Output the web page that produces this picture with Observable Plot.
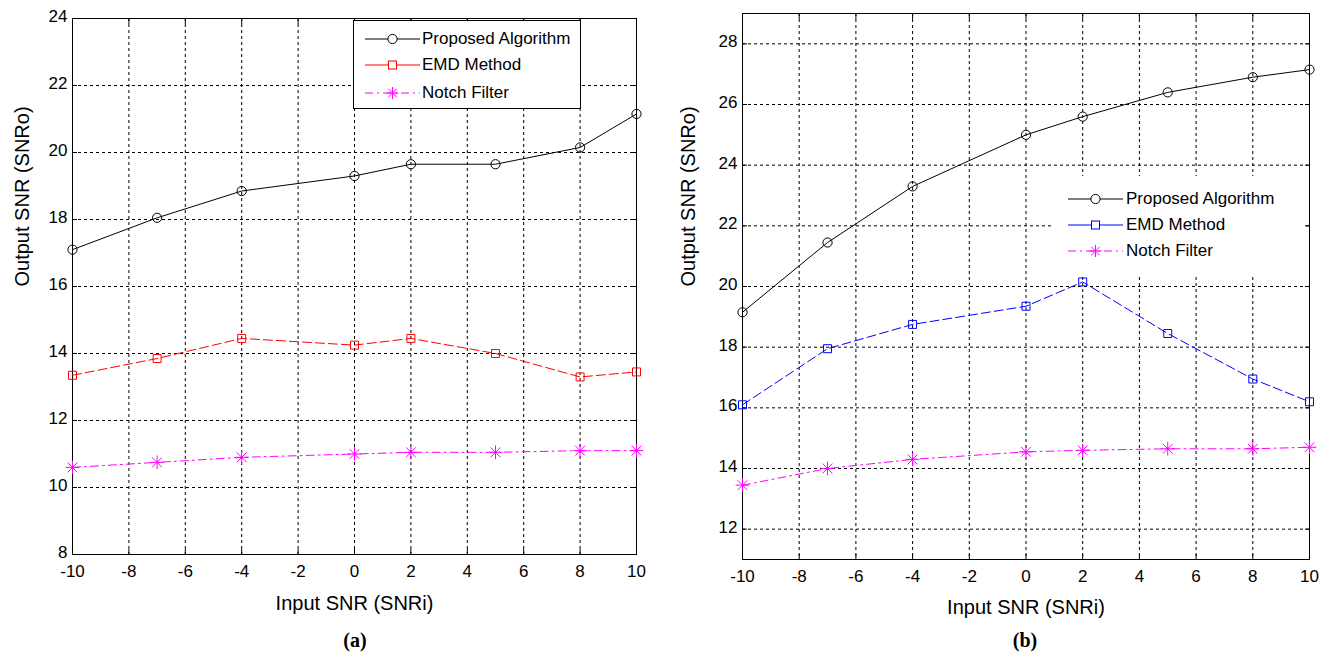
<!DOCTYPE html>
<html>
<head>
<meta charset="utf-8">
<script src="https://cdn.jsdelivr.net/npm/d3@7"></script>
<script src="https://cdn.jsdelivr.net/npm/@observablehq/plot@0.6"></script>
<style>
  html, body { margin: 0; padding: 0; background: #fff; }
  #page { position: relative; width: 1328px; height: 657px; overflow: hidden; }
  .panel { position: absolute; top: 0; }
  .legend { position: absolute; background: #fff; font-family: "Liberation Sans", Arial, sans-serif; font-size: 17px; color: #000; }
  .legend .row { position: absolute; left: 0; height: 20px; white-space: nowrap; }
  .legend svg { position: absolute; left: 0; top: 0; overflow: visible; }
  .legend span { position: absolute; top: 0; line-height: 20px; }
  .caption { position: absolute; font-family: "Liberation Serif", "Times New Roman", serif; font-weight: bold; font-size: 20px; transform: translate(-50%, -50%); }
</style>
</head>
<body>
<div id="page"></div>
<script>
// ---------- data ----------
const snrIn = [-10, -7, -4, 0, 2, 5, 8, 10];
const xTicks = [-10, -8, -6, -4, -2, 0, 2, 4, 6, 8, 10];
const seriesNames = ["Proposed Algorithm", "EMD Method", "Notch Filter"];

const proposedA = [17.1, 18.05, 18.85, 19.3, 19.65, 19.65, 20.15, 21.15];
const emdA      = [13.35, 13.85, 14.45, 14.25, 14.45, 14.0, 13.3, 13.45];
const notchA    = [10.6, 10.75, 10.9, 11.0, 11.05, 11.05, 11.1, 11.1];
const yTicksA   = [8, 10, 12, 14, 16, 18, 20, 22, 24];

const proposedB = [19.15, 21.45, 23.3, 25.0, 25.6, 26.4, 26.9, 27.15];
const emdB      = [16.1, 17.95, 18.75, 19.35, 20.15, 18.45, 16.95, 16.2];
const notchB    = [13.45, 14.0, 14.3, 14.55, 14.6, 14.65, 14.65, 14.7];
const yTicksB   = [12, 14, 16, 18, 20, 22, 24, 26, 28];

const xLabel = "Input SNR (SNRi)";
const yLabel = "Output SNR (SNRo)";
// --------------------------

const sans = "'Liberation Sans',Arial,sans-serif";
const fmt = d => String(d);

function toRows(vals) { return snrIn.map((x, i) => ({x, y: vals[i]})); }

function panel({proposed, emd, notch, yDomain, yTicks, emdColor, margins, labelDy, yLabelDx}) {
  const P = toRows(proposed), E = toRows(emd), N = toRows(notch);
  return Plot.plot({
    width: 664,
    height: 625,
    marginLeft: margins[0], marginRight: margins[1], marginTop: margins[2], marginBottom: margins[3],
    style: {fontFamily: sans, fontSize: "17px", color: "#000", background: "#fff"},
    x: {domain: [-10, 10], ticks: xTicks},
    y: {domain: yDomain, ticks: yTicks},
    marks: [
      Plot.gridX(xTicks, {stroke: "#000", strokeOpacity: 1, strokeDasharray: "3,3", strokeWidth: 1}),
      Plot.gridY(yTicks, {stroke: "#000", strokeOpacity: 1, strokeDasharray: "3,3", strokeWidth: 1}),
      Plot.axisX(xTicks, {tickSize: 5, insetBottom: 5, fill: "none", stroke: "#000"}),
      Plot.axisX(xTicks, {anchor: "top", tickSize: 5, insetTop: 5, fill: "none", stroke: "#000", label: null}),
      Plot.axisY(yTicks, {tickSize: 5, insetLeft: 5, fill: "none", stroke: "#000"}),
      Plot.axisY(yTicks, {anchor: "right", tickSize: 5, insetRight: 5, fill: "none", stroke: "#000", label: null}),
      Plot.axisX(xTicks, {tickSize: 0, tickPadding: 10, stroke: "none", label: null, fill: "#000", tickFormat: fmt}),
      Plot.axisY(yTicks, {tickSize: 0, tickPadding: 5, dy: -2, stroke: "none", label: null, fill: "#000", tickFormat: fmt}),
      Plot.frame({stroke: "#000", strokeWidth: 1}),
      // Notch filter
      Plot.line(N, {x: "x", y: "y", stroke: "#ff00ff", strokeWidth: 1, strokeDasharray: "8,4,2,4"}),
      Plot.dot(N, {x: "x", y: "y", symbol: "plus", r: 4.5, stroke: "#ff00ff", strokeWidth: 1, fill: "none"}),
      Plot.dot(N, {x: "x", y: "y", symbol: "times", r: 4.5, stroke: "#ff00ff", strokeWidth: 1, fill: "none"}),
      // EMD
      Plot.line(E, {x: "x", y: "y", stroke: emdColor, strokeWidth: 1, strokeDasharray: "9,4"}),
      Plot.dot(E, {x: "x", y: "y", symbol: "square", r: 4.5, stroke: emdColor, strokeWidth: 1, fill: "none"}),
      // Proposed
      Plot.line(P, {x: "x", y: "y", stroke: "#000", strokeWidth: 1}),
      Plot.dot(P, {x: "x", y: "y", symbol: "circle", r: 4.6, stroke: "#000", strokeWidth: 1, fill: "none"}),
      // Axis titles
      Plot.text([xLabel], {frameAnchor: "bottom", dy: labelDy, text: d => d, fontFamily: sans, fontSize: 20, lineAnchor: "middle", fill: "#000"}),
      Plot.text([yLabel], {frameAnchor: "left", dx: yLabelDx, rotate: -90, text: d => d, fontFamily: sans, fontSize: 20, lineAnchor: "middle", fill: "#000"})
    ]
  });
}

const page = document.getElementById("page");

const left = document.createElement("div");
left.className = "panel"; left.style.left = "0px";
left.appendChild(panel({proposed: proposedA, emd: emdA, notch: notchA, yDomain: [8, 24], yTicks: yTicksA,
  emdColor: "#ff0000", margins: [72, 28, 18, 71], labelDy: 49, yLabelDx: -50}));
page.appendChild(left);

const right = document.createElement("div");
right.className = "panel"; right.style.left = "664px";
right.appendChild(panel({proposed: proposedB, emd: emdB, notch: notchB, yDomain: [11, 29], yTicks: yTicksB,
  emdColor: "#0000ff", margins: [78, 19, 13, 66], labelDy: 48, yLabelDx: -54}));
page.appendChild(right);

// legends
function swatch(kind, color) {
  const w = 55, c = w / 2;
  let line, mark;
  if (kind === 0) {
    line = `<line x1="0" y1="10" x2="${w}" y2="10" stroke="${color}" stroke-width="1"/>`;
    mark = `<circle cx="${c}" cy="10" r="4.6" fill="#fff" stroke="${color}"/>`;
  } else if (kind === 1) {
    line = `<line x1="0" y1="10" x2="${w}" y2="10" stroke="${color}" stroke-width="1"/>`;
    mark = `<rect x="${c-4}" y="6" width="8" height="8" fill="#fff" stroke="${color}"/>`;
  } else {
    line = `<line x1="0" y1="10" x2="${w}" y2="10" stroke="${color}" stroke-width="1" stroke-dasharray="8,4,2,4"/>`;
    mark = `<path d="M${c-6},10H${c+6}M${c},4V16M${c-4.2},5.8L${c+4.2},14.2M${c-4.2},14.2L${c+4.2},5.8" stroke="${color}" fill="none"/>`;
  }
  return `<svg width="${w}" height="20">${line}${mark}</svg>`;
}

function legend({left, top, width, height, border, rowTops, lineX, textX, emdColor}) {
  const d = document.createElement("div");
  d.className = "legend";
  Object.assign(d.style, {left: left + "px", top: top + "px", width: width + "px", height: height + "px",
    border: border ? "1px solid #000" : "none", boxSizing: "border-box"});
  const colors = ["#000", emdColor, "#ff00ff"];
  seriesNames.forEach((name, i) => {
    const r = document.createElement("div");
    r.className = "row";
    r.style.top = rowTops[i] + "px";
    r.style.width = width + "px";
    r.innerHTML = `<div style="position:absolute;left:${lineX}px;top:0">${swatch(i, colors[i])}</div><span style="left:${textX}px">${name}</span>`;
    d.appendChild(r);
  });
  page.appendChild(d);
}

legend({left: 353, top: 20, width: 228, height: 89, border: true, rowTops: [8, 34, 62], lineX: 11, textX: 68, emdColor: "#ff0000"});
legend({left: 1053, top: 176, width: 252, height: 98, border: false, rowTops: [13, 39, 65], lineX: 15, textX: 73, emdColor: "#0000ff"});

// captions
function caption(text, x, y) {
  const c = document.createElement("div");
  c.className = "caption";
  c.style.left = x + "px"; c.style.top = y + "px";
  c.textContent = text;
  page.appendChild(c);
}
caption("(a)", 355, 640);
caption("(b)", 1025, 640);
</script>
</body>
</html>
